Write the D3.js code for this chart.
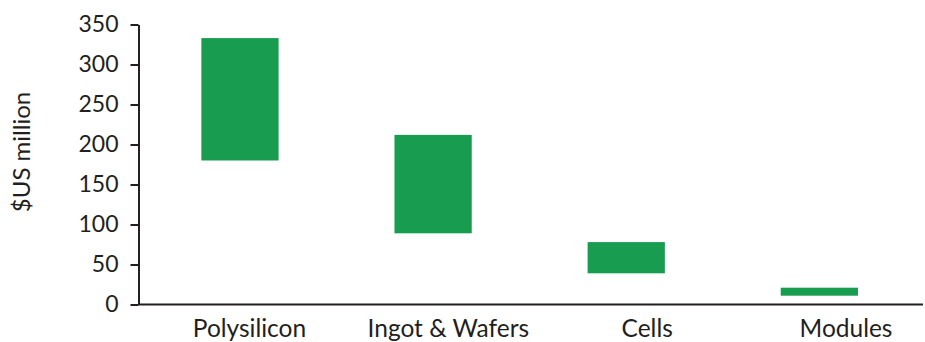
<!DOCTYPE html>
<html>
<head>
<meta charset="utf-8">
<script src="https://cdn.jsdelivr.net/npm/d3@7"></script>
<style>
  html, body { margin: 0; padding: 0; background: #fff; }
  svg { display: block; font-family: Lato, "Open Sans", sans-serif; }
</style>
</head>
<body>
<svg id="chart" width="925" height="342"></svg>
<script>
// Value range (low / high) per supply-chain segment, $US million
const categories = ["Polysilicon", "Ingot & Wafers", "Cells", "Modules"];
const lowValues  = [180, 89, 39, 11];
const highValues = [333, 212, 78, 21];
const yTicks = [0, 50, 100, 150, 200, 250, 300, 350];
const yTitle = "$US million";

const svg = d3.select("#chart");
const axisColor = "#231f20";
const barColor = "#189d50";
const textColor = "#231f20";

const y = d3.scaleLinear().domain([0, 350]).range([304.5, 24.5]);

const x = d3.scaleBand()
  .domain(categories)
  .range([139, 925])
  .paddingInner(0.6)
  .paddingOuter(0.335)
  .align(0.482);

const xLabel = d3.scalePoint()
  .domain(categories)
  .range([249.5, 846]);

// Floating bars from low to high
svg.append("g")
  .selectAll("rect")
  .data(categories)
  .join("rect")
  .attr("x", d => x(d))
  .attr("width", x.bandwidth())
  .attr("y", (d, i) => y(highValues[i]))
  .attr("height", (d, i) => y(lowValues[i]) - y(highValues[i]))
  .attr("fill", barColor);

// Y axis
const yAxis = svg.append("g")
  .attr("transform", "translate(138.5,0)")
  .call(d3.axisLeft(y).tickValues(yTicks).tickSize(8).tickPadding(12).tickSizeOuter(0));
yAxis.select(".domain").attr("stroke", axisColor).attr("stroke-width", 2);
yAxis.selectAll(".tick line").attr("stroke", axisColor).attr("stroke-width", 2);
yAxis.selectAll(".tick text")
  .attr("fill", textColor)
  .style("font-size", "23px")
  .style("font-family", "Lato, sans-serif");

// X baseline
svg.append("line")
  .attr("x1", 138.5).attr("x2", 923)
  .attr("y1", y(0)).attr("y2", y(0))
  .attr("stroke", axisColor).attr("stroke-width", 2);

// Category labels
svg.append("g")
  .selectAll("text")
  .data(categories)
  .join("text")
  .attr("x", d => xLabel(d))
  .attr("y", 337)
  .attr("text-anchor", "middle")
  .attr("fill", textColor)
  .style("font-size", "24.5px")
  .text(d => d);

// Y axis title
svg.append("text")
  .attr("transform", "translate(30,152) rotate(-90)")
  .attr("text-anchor", "middle")
  .attr("fill", textColor)
  .style("font-size", "24px")
  .text(yTitle);
</script>
</body>
</html>
